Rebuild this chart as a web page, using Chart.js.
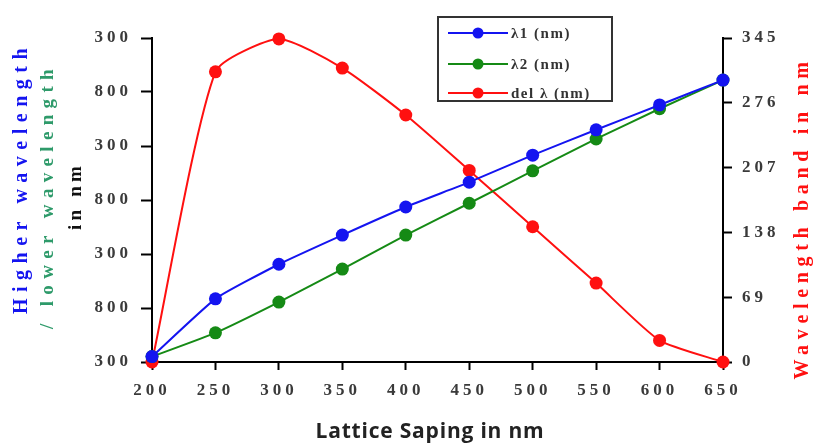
<!DOCTYPE html>
<html>
<head>
<meta charset="utf-8">
<script src="https://cdn.jsdelivr.net/npm/chart.js@4/dist/chart.umd.min.js"></script>
<style>
  html, body { margin: 0; padding: 0; background: #fff; }
  #wrap { width: 817px; height: 446px; }
</style>
</head>
<body>
<div id="wrap"><canvas id="chart" width="817" height="446"></canvas></div>
<script>
// lattice spacing (nm) on the x axis
const spacing = [200, 250, 300, 350, 400, 450, 500, 550, 600, 650];
// left axis is in tick steps (0..6), labels below are as printed on the figure
const lambda1 = [0.1, 1.17, 1.81, 2.35, 2.87, 3.33, 3.83, 4.30, 4.76, 5.22];
const lambda2 = [0.1, 0.54, 1.11, 1.72, 2.35, 2.94, 3.54, 4.13, 4.69, 5.22];
// right axis, wavelength band in nm
const delLambda = [0, 309, 344, 313, 263, 204, 144, 84, 23, 0];
const leftTicks = ["300", "800", "300", "800", "300", "800", "300"];
const rightTicks = [0, 69, 138, 207, 276, 345];

const BLUE = "#1414f0";
const GREEN = "#158a15";
const RED = "#ff1010";
const tickFont = { family: "'Liberation Serif', serif", size: 17, weight: "bold" };

function drawVertical(ctx, text, x, y, length, font, color) {
  ctx.save();
  ctx.font = font;
  ctx.letterSpacing = "0px";
  const w = ctx.measureText(text).width;
  const n = [...text].length;
  ctx.letterSpacing = ((length - w) / n) + "px";
  ctx.translate(x, y);
  ctx.rotate(-Math.PI / 2);
  ctx.textAlign = "center";
  ctx.textBaseline = "middle";
  ctx.fillStyle = color;
  ctx.fillText(text, 0, 0);
  ctx.restore();
}

const decorations = {
  id: "decorations",
  beforeDraw(chart) {
    chart.ctx.letterSpacing = "4px";
  },
  afterDraw(chart) {
    const ctx = chart.ctx;
    // axis titles
    drawVertical(ctx, "Higher wavelength", 22, 178, 272, "bold 20px 'Liberation Serif'", BLUE);
    drawVertical(ctx, "/ lower wavelength", 48, 196, 266, "bold 19px 'Liberation Serif'", "#2e9a6a");
    drawVertical(ctx, "in nm", 76, 196, 68, "bold 19px 'Liberation Serif'", "#111");
    drawVertical(ctx, "Wavelength band in nm", 803, 218, 323, "bold 20px 'Liberation Serif'", RED);

    ctx.save();
    ctx.letterSpacing = "0.8px";
    ctx.font = "bold 21px 'Open Sans'";
    ctx.fillStyle = "#222";
    ctx.textAlign = "center";
    ctx.textBaseline = "alphabetic";
    ctx.fillText("Lattice Saping in nm", 430, 438);
    ctx.restore();

    // legend box
    ctx.save();
    ctx.letterSpacing = "1.5px";
    ctx.strokeStyle = "#333";
    ctx.lineWidth = 2;
    ctx.strokeRect(438, 17, 174, 84);
    const rows = [33, 64, 93];
    chart.data.datasets.forEach((ds, i) => {
      const y = rows[i];
      ctx.strokeStyle = ds.borderColor;
      ctx.lineWidth = 2;
      ctx.beginPath();
      ctx.moveTo(448, y);
      ctx.lineTo(508, y);
      ctx.stroke();
      ctx.fillStyle = ds.borderColor;
      ctx.beginPath();
      ctx.arc(478, y, 5.5, 0, Math.PI * 2);
      ctx.fill();
      ctx.fillStyle = "#333";
      ctx.font = "bold 15px 'Liberation Serif'";
      ctx.textAlign = "left";
      ctx.textBaseline = "middle";
      ctx.fillText(ds.label, 511, y + 1);
    });
    ctx.restore();
    ctx.letterSpacing = "0px";
  }
};

const chart = new Chart(document.getElementById("chart"), {
  type: "line",
  data: {
    labels: spacing,
    datasets: [
      {
        label: "λ1 (nm)",
        data: lambda1,
        yAxisID: "y",
        borderColor: BLUE,
        backgroundColor: BLUE,
        tension: 0.15
      },
      {
        label: "λ2 (nm)",
        data: lambda2,
        yAxisID: "y",
        borderColor: GREEN,
        backgroundColor: GREEN,
        tension: 0.15
      },
      {
        label: "del λ (nm)",
        data: delLambda,
        yAxisID: "y1",
        borderColor: RED,
        backgroundColor: RED,
        tension: 0.2
      }
    ]
  },
  options: {
    responsive: false,
    animation: false,
    layout: { padding: { top: 38, left: 0, right: 0, bottom: 0 } },
    elements: {
      line: { borderWidth: 2 },
      point: { radius: 6.5, borderWidth: 0, hoverRadius: 6.5 }
    },
    datasets: { line: { clip: false } },
    plugins: {
      legend: { display: false },
      tooltip: { enabled: false }
    },
    scales: {
      x: {
        type: "category",
        offset: false,
        border: { color: "#000", width: 2 },
        grid: { drawOnChartArea: false, color: "#000", tickLength: 8, tickWidth: 2 },
        ticks: { font: tickFont, color: "#3a3a3a", padding: 10, maxRotation: 0, autoSkip: false },
        afterFit(scale) { scale.height = 84; }
      },
      y: {
        position: "left",
        min: 0,
        max: 6,
        border: { color: "#000", width: 2 },
        grid: { drawOnChartArea: false, color: "#000", tickLength: 11, tickWidth: 2 },
        ticks: {
          stepSize: 1,
          font: tickFont,
          color: "#3a3a3a",
          padding: 9,
          callback: (v) => leftTicks[v]
        },
        afterFit(scale) { scale.width = 152; }
      },
      y1: {
        position: "right",
        min: 0,
        max: 345,
        border: { color: "#000", width: 2 },
        grid: { drawOnChartArea: false, color: "#000", tickLength: 9, tickWidth: 2 },
        afterBuildTicks(scale) {
          scale.ticks = rightTicks.map(v => ({ value: v }));
        },
        ticks: { font: tickFont, color: "#3a3a3a", padding: 10 },
        afterFit(scale) { scale.width = 94; }
      }
    }
  },
  plugins: [decorations]
});
</script>
</body>
</html>
